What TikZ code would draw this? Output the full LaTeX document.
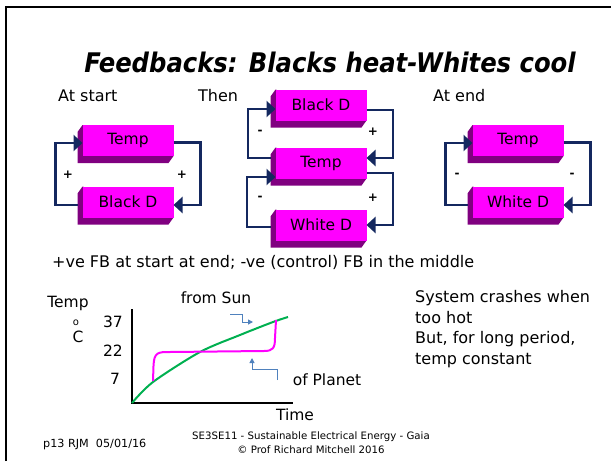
\documentclass[tikz,border=0pt]{standalone}
\usepackage{fontspec}
\setmainfont{DejaVu Sans}
\newfontfamily\titlefont{DejaVu Sans Condensed}
\usetikzlibrary{arrows.meta,backgrounds,calc}
\definecolor{boxpink}{RGB}{255,0,255}
\definecolor{boxside}{RGB}{128,0,128}
\definecolor{fbnavy}{RGB}{20,40,95}
\definecolor{curvegreen}{RGB}{0,176,80}
\definecolor{hintblue}{RGB}{79,129,189}
\tikzset{
  fbox/.style={fill=boxpink, minimum width=91pt, minimum height=31pt, inner sep=0pt, outer sep=0pt, font=\fontsize{15.5}{18}\selectfont},
  fb/.style={draw=fbnavy, line width=2.2pt, -{Triangle[length=9pt,width=16pt]}},
  sign/.style={inner sep=0pt, font=\fontsize{12}{14}\selectfont\bfseries},
  body/.style={inner sep=0pt, anchor=base west, font=\fontsize{16}{20}\selectfont},
  glabel/.style={inner sep=0pt, anchor=base, font=\fontsize{15.5}{19}\selectfont},
  foot/.style={inner sep=0pt, anchor=base, font=\fontsize{10.2}{12}\selectfont},
  hint/.style={draw=hintblue, line width=1pt, -{Triangle[length=5pt,width=5pt]}},
}
\newcommand\extrude[1]{\fill[boxside] (#1.north west) -- ++(-5,7) -- ($(#1.south west)+(-5,7)$) -- ($(#1.south east)+(-5,7)$) -- (#1.south east) -- cycle;}
\begin{document}
\begin{tikzpicture}[x=1pt,y=-1pt]
\useasboundingbox (0,0) rectangle (611,461);
% slide frame
\draw[line width=2pt] (6,461) -- (6,7) -- (611,7);
% title
\node[inner sep=0pt, font=\titlefont\fontsize{27}{32}\selectfont\bfseries\itshape] (title) at (330,62) {Feedbacks: Blacks heat-Whites cool};
% column headings
\node[body] (hstart) at (58,101) {At start};
\node[body] (hthen) at (198,101) {Then};
\node[body] (hend) at (433,101) {At end};
% boxes
\node[fbox] (lt) at (128,140.5) {Temp};
\node[fbox] (lb) at (128,202) {Black D};
\node[fbox] (mb) at (321,105) {Black D};
\node[fbox] (mt) at (321,163) {Temp};
\node[fbox] (mw) at (321,225) {White D};
\node[fbox] (rt) at (518,140.5) {Temp};
\node[fbox] (rw) at (518,202) {White D};
\begin{scope}[on background layer]
\extrude{lt}\extrude{lb}\extrude{mb}\extrude{mt}\extrude{mw}\extrude{rt}\extrude{rw}
\end{scope}
% feedback connectors
\draw[fb] ([shift={(-5,3)}]lb.west) -- ++(-22,0) |- ([shift={(0,2.5)}]lt.west);
\draw[fb] ([shift={(0,2)}]lt.east) -- ++(27,0) |- ([shift={(0,3)}]lb.east);
\draw[fb] ([shift={(-5,-5)}]mt.west) -- ++(-22.5,0) |- ([shift={(0,4)}]mb.west);
\draw[fb] ([shift={(0,5)}]mb.east) -- ++(26.5,0) |- ([shift={(0,-5)}]mt.east);
\draw[fb] ([shift={(0,10)}]mt.east) -- ++(26.5,0) |- ([shift={(0,0)}]mw.east);
\draw[fb] ([shift={(-5,2)}]mw.west) -- ++(-23.5,0) |- ([shift={(0,14)}]mt.west);
\draw[fb] ([shift={(-5,3)}]rw.west) -- ++(-22,0) |- ([shift={(0,2.5)}]rt.west);
\draw[fb] ([shift={(0,2)}]rt.east) -- ++(27,0) |- ([shift={(0,3)}]rw.east);
% signs
\node[sign] (s1) at (68,175) {+};
\node[sign] (s2) at (182,175) {+};
\node[sign] (s3) at (260,132) {-};
\node[sign] (s4) at (373,132) {+};
\node[sign] (s5) at (260,198) {-};
\node[sign] (s6) at (373,198) {+};
\node[sign] (s7) at (457,175) {-};
\node[sign] (s8) at (572,175) {-};
% summary line
\node[body] (summary) at (52,267.5) {+ve FB at start at end; -ve (control) FB in the middle};
% graph
\coordinate (ytop) at (132,309);
\coordinate (org) at (132,403);
\coordinate (xend) at (293,403);
\draw[line width=1.8pt] (ytop) -- (org) -- (xend);
\node[glabel] (ylab) at (68,307.5) {Temp};
\node[inner sep=0pt, font=\fontsize{10}{11}\selectfont] (deg) at (76,323) {o};
\node[glabel] (cel) at (78,342.5) {C};
\node[glabel] (t37) at (113,327.5) {37};
\node[glabel] (t22) at (113,356.5) {22};
\node[glabel] (t7) at (115,384.5) {7};
\node[glabel] (sun) at (216,303.5) {from Sun};
\node[glabel] (planet) at (327,385.5) {of Planet};
\node[glabel] (time) at (295,420.5) {Time};
\draw[curvegreen, line width=2pt] plot[smooth] coordinates {(132,403) (153,382) (200,352) (240,335) (273,322) (288,317)};
\draw[boxpink, line width=2pt] (153,381) -- (153.5,366) .. controls (154,352) and (158,352) .. (170,352) -- (264,351) .. controls (273,351) and (275,348) .. (275,338) -- (276,320);
\coordinate (h1a) at (230,314);
\coordinate (h1b) at (253,322);
\draw[hint] (h1a) -- (242,314) -- (242,322) -- (h1b);
\coordinate (h2a) at (277,380);
\coordinate (h2b) at (252,358);
\draw[hint] (h2a) -- (277,369) -- (252,369) -- (h2b);
% notes
\node[body] (n1) at (415,302.5) {System crashes when};
\node[body] (n2) at (415,323) {too hot};
\node[body] (n3) at (415,343.5) {But, for long period,};
\node[body] (n4) at (415,364) {temp constant};
% footer
\node[foot, anchor=base west, font=\fontsize{11.2}{13}\selectfont] (page) at (43,447) {p13 RJM~~05/01/16};
\node[foot] (course) at (311,439.5) {SE3SE11 - Sustainable Electrical Energy - Gaia};
\node[foot] (copy) at (311,453.5) {© Prof Richard Mitchell 2016};
\end{tikzpicture}
\end{document}
